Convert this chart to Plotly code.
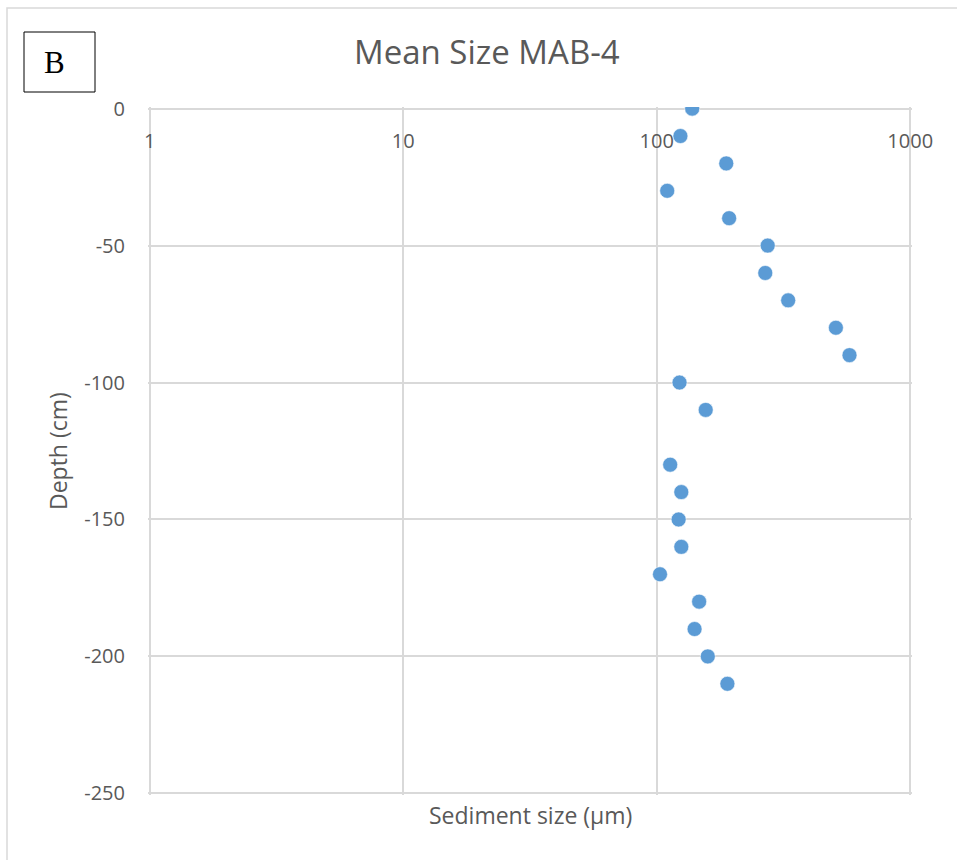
import plotly.graph_objects as go

# Mean grain size (µm) down core MAB-4
depth_cm = [0, -10, -20, -30, -40, -50, -60, -70, -80, -90, -100, -110,
            -130, -140, -150, -160, -170, -180, -190, -200, -210]
mean_size_um = [138, 124, 188, 110, 193, 274, 268, 330, 509, 576, 123, 156,
                113, 125, 122, 125, 103, 147, 141, 159, 190]

x_tick_vals = [1, 10, 100, 1000]
x_tick_text = ["1", "10", "100", "1000"]
y_tick_vals = [0, -50, -100, -150, -200, -250]
y_tick_text = ["0", "-50", "-100", "-150", "-200", "-250"]

W, H = 957, 860
L, R, T, B = 148, 45, 107, 65
pw, ph = W - L - R, H - T - B


def px(x):
    return (x - L) / pw


def py(y):
    return (H - B - y) / ph


grey = "#595959"
grid = "#d9d9d9"
font = "Open Sans"

fig = go.Figure(go.Scatter(
    x=mean_size_um, y=depth_cm, mode="markers",
    marker=dict(size=15, color="#5b9bd5", line=dict(width=0.6, color="#ffffff")),
    showlegend=False,
))

fig.update_layout(
    width=W, height=H,
    margin=dict(l=L, r=R, t=T, b=B),
    paper_bgcolor="white", plot_bgcolor="white",
    font=dict(family=font, color=grey),
    # value axis crosses at depth 0, so its labels sit just under the top edge
    xaxis=dict(
        type="log", range=[-0.007, 3.007],
        anchor="free", position=1, side="bottom",
        tickvals=x_tick_vals, ticktext=x_tick_text,
        ticklabelstandoff=20,
        tickfont=dict(size=20, color=grey),
        showgrid=True, gridcolor=grid, gridwidth=1.6,
        showline=False, zeroline=False, ticks="",
    ),
    yaxis=dict(
        range=[-250.6, 0.6], domain=[0, 1],
        tickvals=y_tick_vals, ticktext=y_tick_text,
        tickfont=dict(size=20, color=grey),
        ticklabelstandoff=22,
        showgrid=True, gridcolor=grid, gridwidth=1.6,
        zeroline=False, showline=False, ticks="",
    ),
    shapes=[
        dict(type="rect", xref="paper", yref="paper",
             x0=px(7), x1=px(W + 20), y0=py(H + 20), y1=py(8),
             line=dict(color="#d9d9d9", width=1.5), layer="below"),
        dict(type="rect", xref="paper", yref="paper",
             x0=px(24), x1=px(95), y0=py(92), y1=py(32),
             line=dict(color="#000000", width=1)),
    ],
    annotations=[
        dict(text="B", xref="paper", yref="paper", x=px(54), y=py(62),
             xanchor="center", yanchor="middle", showarrow=False,
             font=dict(family="Liberation Serif", size=31, color="#000000")),
        dict(text="Mean Size MAB-4", xref="paper", yref="paper",
             x=px(487), y=py(52), xanchor="center", yanchor="middle",
             showarrow=False, font=dict(size=33, color=grey)),
        dict(text="Sediment size (µm)", xref="paper", yref="paper",
             x=px(530), y=py(815), xanchor="center", yanchor="middle",
             showarrow=False, font=dict(size=23, color=grey)),
        dict(text="Depth (cm)", xref="paper", yref="paper",
             x=px(58), y=py(451), xanchor="center", yanchor="middle",
             textangle=-90, showarrow=False, font=dict(size=23, color=grey)),
    ],
)

fig.write_html("out.html")
